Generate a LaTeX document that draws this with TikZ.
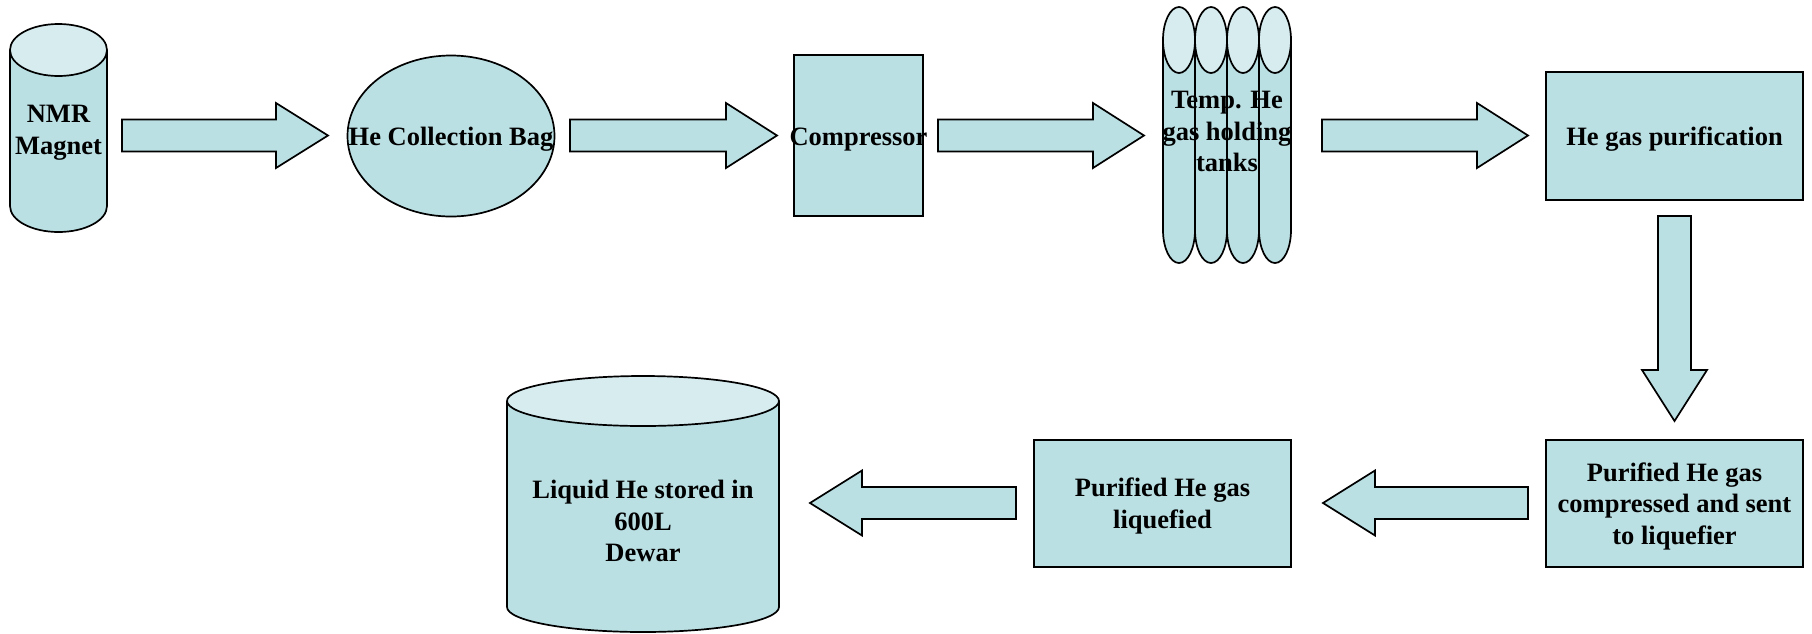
\documentclass[tikz,border=0pt]{standalone}
\usepackage{fontspec}
\setmainfont{Liberation Serif}
\definecolor{bodyc}{RGB}{187,224,227}
\definecolor{topc}{RGB}{214,236,239}
\newcommand{\mycyl}[5]{%
  \pgfmathsetmacro\mycx{(#1+#2)/2}\pgfmathsetmacro\myrx{(#2-#1)/2}%
  \draw[fill=bodyc] (\mycx,#4) ellipse [x radius=\myrx, y radius=#5];
  \fill[bodyc] (#1,#3) rectangle (#2,#4);
  \draw (#1,#3) -- (#1,#4) (#2,#3) -- (#2,#4);
  \draw[fill=topc] (\mycx,#3) ellipse [x radius=\myrx, y radius=#5];}
\newcommand{\harr}[4]{% x0, xbase, xtip, cy
  \draw[barrow] (#1,#4-16) -- (#2,#4-16) -- (#2,#4-32.5) -- (#3,#4) -- (#2,#4+32.5) -- (#2,#4+16) -- (#1,#4+16) -- cycle;}
\newcommand{\varr}[4]{% y0, ybase, ytip, cx
  \draw[barrow] (#4-16.5,#1) -- (#4-16.5,#2) -- (#4-32.5,#2) -- (#4,#3) -- (#4+32.5,#2) -- (#4+16.5,#2) -- (#4+16.5,#1) -- cycle;}
\begin{document}
\begin{tikzpicture}[x=1pt,y=-1pt,line width=1.7pt,line join=miter,
  lbl/.style={font=\bfseries\fontsize{26.5}{31.5}\selectfont,align=center,inner sep=0pt},
  shp/.style={draw=black,fill=bodyc},
  barrow/.style={draw=black,fill=bodyc,line join=miter}]
\fill[white] (0,0) rectangle (1812,633);
\useasboundingbox (0,0) rectangle (1812,633);
% shapes
\mycyl{10}{107}{50}{206}{26}
\draw[shp] (451,136) ellipse [x radius=103.5, y radius=80.5];
\draw[shp] (794,55) rectangle (923,216);
\mycyl{1163}{1195}{40}{230}{33}
\mycyl{1195}{1227}{40}{230}{33}
\mycyl{1227}{1259}{40}{230}{33}
\mycyl{1259}{1291}{40}{230}{33}
\draw[shp] (1546,72) rectangle (1803,200);
\draw[shp] (1546,440) rectangle (1803,567);
\draw[shp] (1034,440) rectangle (1291,567);
\mycyl{507}{779}{401}{607}{25}
% block arrows
\harr{122}{276}{328}{135.5}
\harr{570}{726}{777}{135.5}
\harr{938}{1093}{1144}{135.5}
\harr{1322}{1477}{1528}{135.5}
\varr{216}{370}{421}{1674.5}
\harr{1528}{1375}{1323}{503}
\harr{1016}{862}{810}{503}
% labels
\node[lbl] (nmr) at (58.5,132.5) {NMR\\Magnet};
\node[lbl] (bag) at (451,139.5) {He Collection Bag};
\node[lbl] (comp) at (858.5,139.5) {Compressor};
\node[lbl] (tanks) at (1227,131.5) {Temp. He\\gas holding\\tanks};
\node[lbl] (pur) at (1674.5,139.5) {He gas purification};
\node[lbl] (pc) at (1674.5,506) {Purified He gas\\compressed and sent\\to liquefier};
\node[lbl] (liq) at (1162.5,506) {Purified He gas\\liquefied};
\node[lbl] (dewar) at (643,521) {Liquid He stored in\\600L\\Dewar};
\end{tikzpicture}
\end{document}
